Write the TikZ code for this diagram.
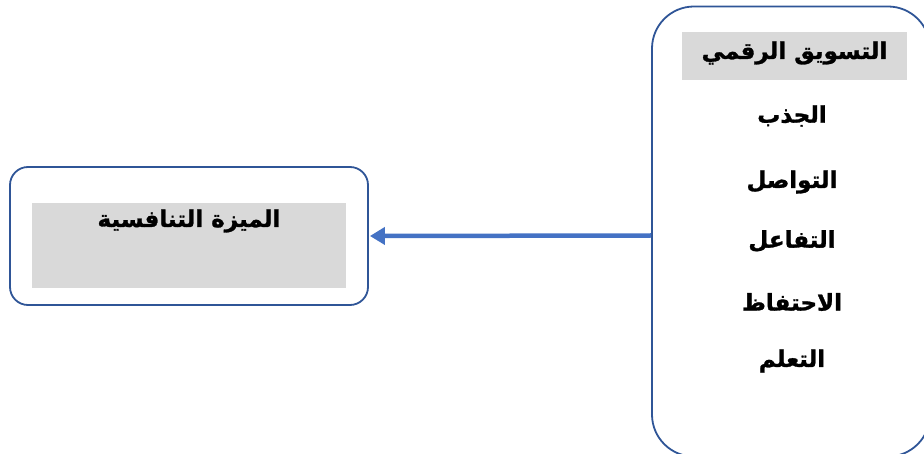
\documentclass[tikz,border=0pt]{standalone}
\usepackage{fontspec}
\newfontfamily\arabicfont[Script=Arabic,FakeBold=1.2]{DejaVu Sans}
\TeXXeTstate=1
\usepackage{tikz}
\usetikzlibrary{arrows.meta}
\usetikzlibrary{positioning}
\definecolor{boxblue}{HTML}{2F5597}
\definecolor{arrowblue}{HTML}{4472C4}
\definecolor{fillgray}{HTML}{D9D9D9}
\tikzset{bluebox/.style={rectangle,draw=boxblue,line width=1.8pt,fill=white,inner sep=0pt}}
\tikzset{graybox/.style={rectangle,fill=fillgray,inner sep=0pt}}
\tikzset{arlabel/.style={inner sep=1pt,font=\arabicfont\bfseries\fontsize{23}{26}\selectfont}}

\begin{document}
\begin{tikzpicture}[x=1pt,y=-1pt]
\useasboundingbox (0,0) rectangle (924,454);

\node[bluebox, minimum width=358pt, minimum height=138pt, rounded corners=18pt] (adv) at (189,236) {};
\node[graybox, minimum width=314pt, minimum height=85pt] (advfill) at (189,245.5) {};
\node[arlabel] (advtext) at (189,221) {\beginR الميزة التنافسية\endR};

\node[bluebox, minimum width=278pt, minimum height=450pt, rounded corners=42pt] (dm) at (791,231.5) {};
\node[graybox, minimum width=225pt, minimum height=48pt] (dmfill) at (794.5,56) {};
\node[arlabel] (dmtext) at (794.5,53) {\beginR التسويق الرقمي\endR};
\node[arlabel] (i1) at (792,116) {\beginR الجذب\endR};
\node[arlabel] (i2) at (792,182) {\beginR التواصل\endR};
\node[arlabel] (i3) at (792,241) {\beginR التفاعل\endR};
\node[arlabel] (i4) at (792,302) {\beginR الاحتفاظ\endR};
\node[arlabel] (i5) at (792,361) {\beginR التعلم\endR};

\draw[arrowblue, line width=4.5pt, -{Triangle[length=15pt,width=17pt]}] ([yshift=-4pt]dm.west) -- ([xshift=1pt]adv.east);
\end{tikzpicture}
\end{document}
